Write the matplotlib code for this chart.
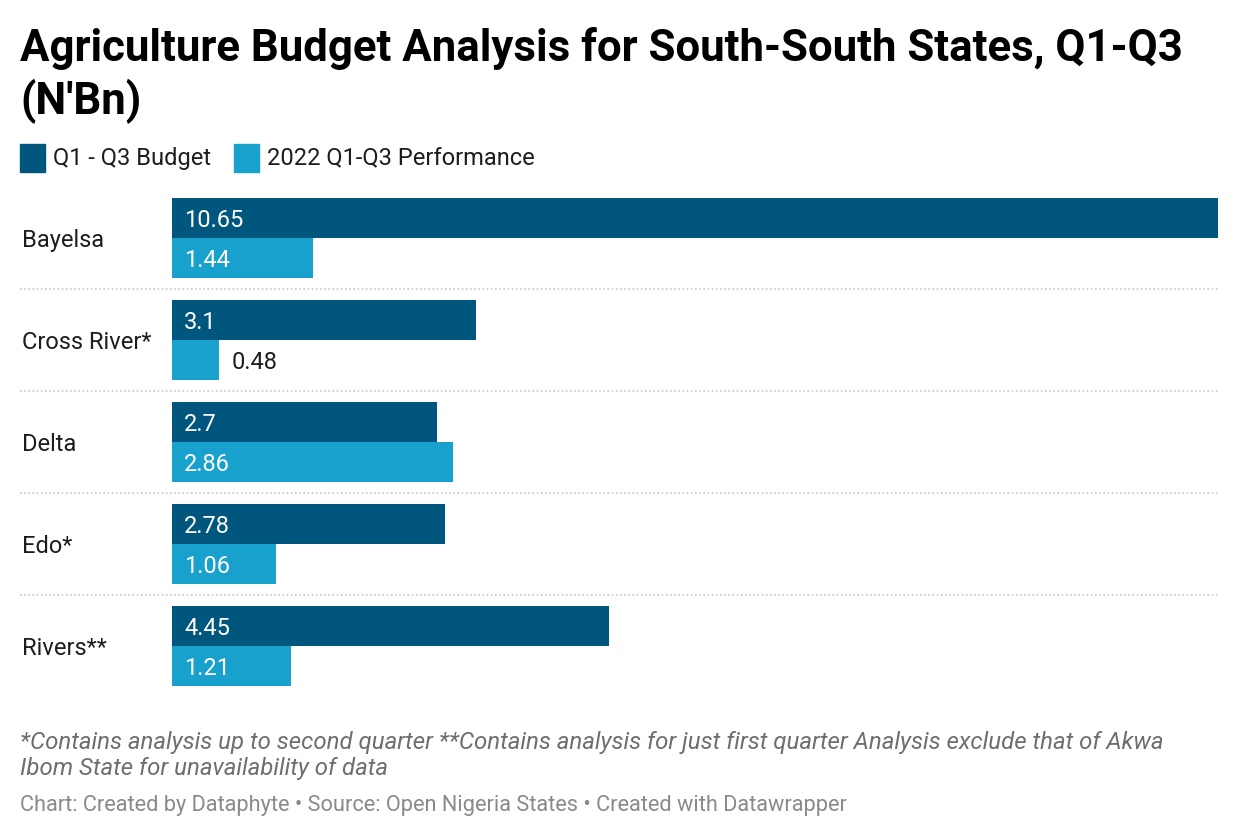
import matplotlib.pyplot as plt
import matplotlib.transforms as mtransforms

plt.rcParams['font.family'] = ['Roboto', 'DejaVu Sans']

# * Data
states = ["Bayelsa", "Cross River*", "Delta", "Edo*", "Rivers**"]
budget = [10.65, 3.1, 2.7, 2.78, 4.45]
performance = [1.44, 0.48, 2.86, 1.06, 1.21]
budget_labels = ["10.65", "3.1", "2.7", "2.78", "4.45"]
perf_labels = ["1.44", "0.48", "2.86", "1.06", "1.21"]

DARK = "#00567c"
LIGHT = "#18a1cd"
TEXT = "#1d1d1d"

W, H = 1240, 840
fig = plt.figure(figsize=(W / 100, H / 100), dpi=100)

# Axes placed in pixel coordinates of the original chart.
x0, x1, y0, y1 = 172, 1218, 198, 686
ax = fig.add_axes([x0 / W, 1 - y1 / H, (x1 - x0) / W, (y1 - y0) / H])

bh = 0.392
pos = list(range(len(states)))
ax.barh([p - bh / 2 for p in pos], budget, height=bh, color=DARK)
ax.barh([p + bh / 2 for p in pos], performance, height=bh, color=LIGHT)

ax.set_xlim(0, 10.65)
ax.set_ylim(len(states) - 1 + bh, -bh)
ax.axis("off")

# Value labels: inside the bar when it fits, else just after it.
px = 10.65 / (x1 - x0)
FS = 17
for p, v, lab in zip(pos, budget, budget_labels):
    ax.text(12 * px, p - bh / 2 + 0.02, lab, color="white", fontsize=FS, va="center", ha="left")
for p, v, lab in zip(pos, performance, perf_labels):
    if v * (1 / px) > 70:
        ax.text(12 * px, p + bh / 2 + 0.02, lab, color="white", fontsize=FS, va="center", ha="left")
    else:
        ax.text(v + 12 * px, p + bh / 2 + 0.02, lab, color=TEXT, fontsize=FS, va="center", ha="left")

# Category labels on the left.
trans = mtransforms.blended_transform_factory(fig.transFigure, ax.transData)
for p, s in zip(pos, states):
    ax.text(22 / W, p + 0.02, s, transform=trans, color=TEXT, fontsize=FS, va="center", ha="left")

# Dotted separators between groups.
for p in pos[:-1]:
    ax.axhline(p + 0.5, xmin=(20 - x0) / (x1 - x0), xmax=1.0, color="#c8c8c8",
               linestyle=(0, (1, 1.5)), linewidth=1.2, clip_on=False)

# Title
fig.text(20 / W, 1 - 49 / H, "Agriculture Budget Analysis for South-South States, Q1-Q3",
         fontsize=31.5, fontweight="bold", color="black", va="center", ha="left")
fig.text(20 / W, 1 - 101 / H, "(N'Bn)",
         fontsize=31.5, fontweight="bold", color="black", va="center", ha="left")

# Legend
for lx, col, lab in [(20, DARK, "Q1 - Q3 Budget"), (234, LIGHT, "2022 Q1-Q3 Performance")]:
    fig.patches.append(plt.Rectangle((lx / W, 1 - 172 / H), 25 / W, 28 / H,
                                     transform=fig.transFigure, color=col))
    fig.text((lx + 33) / W, 1 - 158 / H, lab, fontsize=FS, color=TEXT, va="center", ha="left")

# Notes
fig.text(20 / W, 1 - 742 / H,
         "*Contains analysis up to second quarter **Contains analysis for just first quarter Analysis exclude that of Akwa",
         fontsize=17.3, style="italic", color="#6e6e6e", va="center", ha="left")
fig.text(20 / W, 1 - 769 / H, "Ibom State for unavailability of data",
         fontsize=17.3, style="italic", color="#6e6e6e", va="center", ha="left")
fig.text(20 / W, 1 - 805 / H,
         "Chart: Created by Dataphyte \u2022 Source: Open Nigeria States \u2022 Created with Datawrapper",
         fontsize=15.7, color="#8a8a8a", va="center", ha="left")

fig.savefig("out.png", dpi=100, facecolor="white")
